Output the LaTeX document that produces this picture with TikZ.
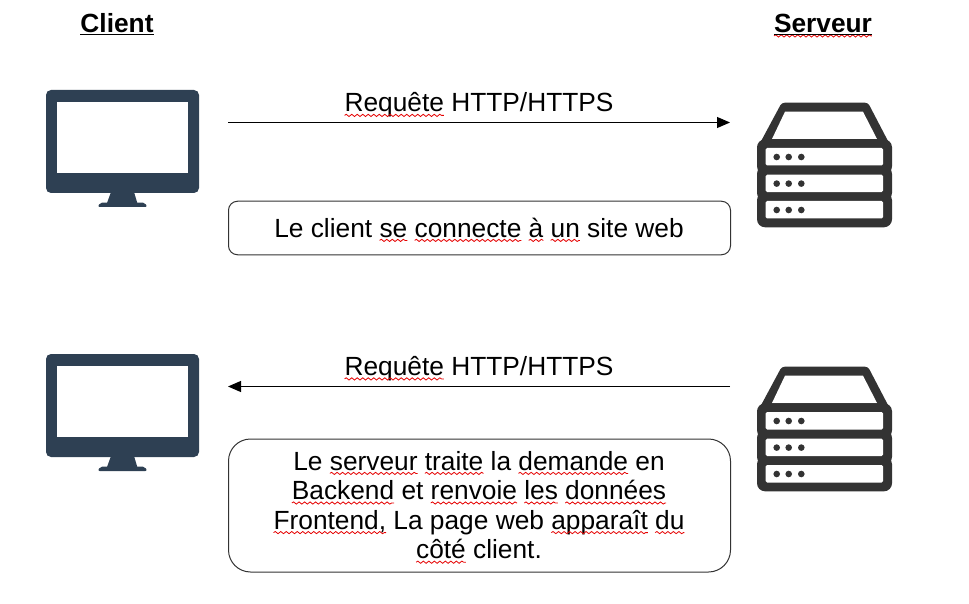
\documentclass[tikz,border=0pt]{standalone}
\usepackage{fontspec}
\setmainfont{Liberation Sans}
\usetikzlibrary{positioning}
\usetikzlibrary{arrows.meta}
\usetikzlibrary{decorations.pathmorphing}
\definecolor{monitorblue}{HTML}{2E4053}
\definecolor{serverdark}{HTML}{333333}
\newcommand{\spell}[1]{\tikz[baseline=(word.base)]{\node[inner sep=0pt,outer sep=0pt] (word) {#1};
\draw[overlay,red!90!black,line width=.8pt,decorate,decoration={snake,segment length=5.5pt,amplitude=1.1pt}] ([yshift=-3.4pt]word.base west) -- ([yshift=-3.4pt]word.base east);}}
\tikzset{
label/.style={font=\fontsize{26.3}{29.6}\selectfont,inner sep=0pt,align=center},
title/.style={label,font=\fontsize{26.3}{29.6}\selectfont\bfseries,anchor=base},
request/.style={line width=1pt,-{Triangle[length=13pt,width=11pt]}},
note/.style={draw=black!80,line width=1pt,minimum width=502pt},
pics/monitor/.style={code={
\fill[monitorblue,rounded corners=5pt] (0,0) rectangle (153,103);
\fill[white] (11.3,11.7) rectangle (141.7,82.7);
\fill[monitorblue] (65,102) -- (61,113) -- (91.3,113) -- (88,102) -- cycle;
\fill[monitorblue,rounded corners=2pt] (51.7,117) -- (54,112.7) -- (99,112.7) -- (101.3,117) -- cycle;
}},
pics/server/.style={code={
\fill[serverdark,rounded corners=3pt] (24.7,0) -- (111,0) -- (135,46) -- (0,46) -- cycle;
\fill[white] (28,9) -- (106,9) -- (120,36.3) -- (15,36.3) -- cycle;
\foreach \slot in {45.3,71.9,98.3}{
\fill[serverdark,rounded corners=8pt] (0,\slot-8.7) rectangle (135,\slot+26.3);
}
\foreach \slot in {45.3,71.9,98.3}{
\fill[white,rounded corners=1.5pt] (8.7,\slot) rectangle (126,\slot+17.5);
\foreach \dotx in {19.7,31.7,44.3}{
\fill[serverdark] (\dotx,\slot+9) circle (3.3);
}
}
}}
}
\begin{document}
\begin{tikzpicture}[x=1pt,y=-1pt]
\useasboundingbox (0,0) rectangle (969,604);
\node[title] (client) at (117,32.5) {\underline{Client}};
\node[title] (serveur) at (823,32.5) {\underline{\spell{Serveur}}};
% first exchange
\pic at (46,90) {monitor};
\pic at (757,102.7) {server};
\coordinate (clientA) at (228,122.5);
\coordinate (serverA) at (730,122.5);
\draw[request] (clientA) -- (serverA);
\node[label,anchor=base] (requestA) at (479,112) {\spell{Requête} HTTP/HTTPS};
\node[note,rounded corners=9pt,minimum height=53.5pt] (noteA) at (479.5,228) {};
\node[label,anchor=base] (textA) at (479,237) {Le client \spell{se} \spell{connecte} \spell{à} \spell{un} site web};
% second exchange
\pic at (46,354) {monitor};
\pic at (757,366.7) {server};
\coordinate (clientB) at (228,386.5);
\coordinate (serverB) at (730,386.5);
\draw[request] (serverB) -- (clientB);
\node[label,anchor=base] (requestB) at (479,375.5) {\spell{Requête} HTTP/HTTPS};
\node[note,rounded corners=22pt,minimum height=133pt] (noteB) at (479.5,505.5) {};
\node[label] (textB) at (479,505) {Le \spell{serveur} \spell{traite} la \spell{demande} en\\
\spell{Backend} et \spell{renvoie} \spell{les} \spell{données}\\
\spell{Frontend,} La page web \spell{apparaît} \spell{du}\\
\spell{côté} client.};
\end{tikzpicture}
\end{document}
